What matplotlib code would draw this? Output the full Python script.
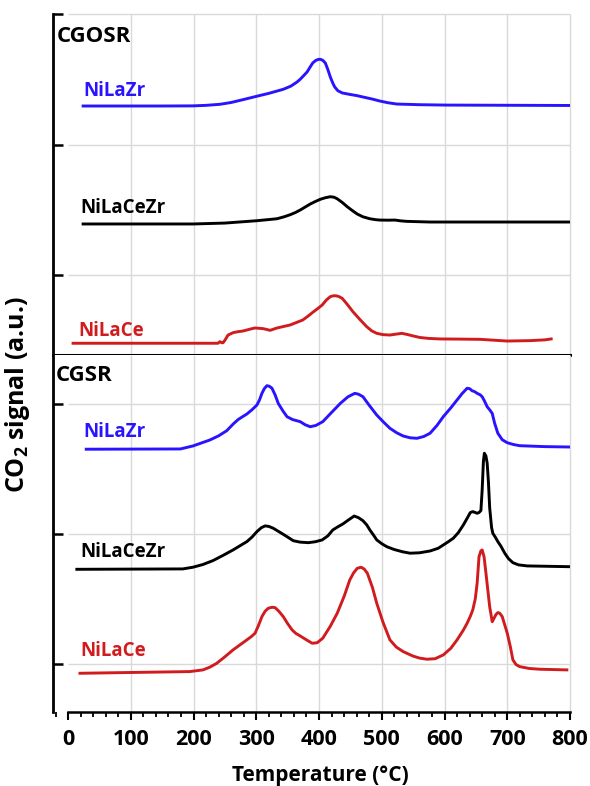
import matplotlib
matplotlib.use("Agg")
import matplotlib.pyplot as plt
from matplotlib.ticker import MultipleLocator, NullFormatter

plt.rcParams['font.family'] = ['Open Sans', 'DejaVu Sans']
plt.rcParams['mathtext.fontset'] = 'custom'
plt.rcParams['mathtext.rm'] = 'Open Sans:bold'
plt.rcParams['mathtext.bf'] = 'Open Sans:bold'

# ---------------- CGOSR (upper panel) ----------------
cgosr_zr_T = [24, 150, 199, 220, 242, 260, 280, 301, 320, 343, 355, 365, 370, 376, 381,
              386, 390, 395, 399, 402, 406, 410, 414, 418, 422, 425, 430, 437, 450, 460,
              470, 485, 497, 510, 524, 560, 604, 800]
cgosr_zr_y = [2.295, 2.295, 2.296, 2.300, 2.308, 2.322, 2.345, 2.370, 2.392, 2.423, 2.447,
              2.479, 2.500, 2.530, 2.556, 2.595, 2.625, 2.645, 2.652, 2.653, 2.645, 2.625,
              2.575, 2.517, 2.470, 2.441, 2.412, 2.395, 2.383, 2.375, 2.364, 2.348, 2.333,
              2.320, 2.310, 2.305, 2.302, 2.299]

cgosr_cezr_T = [24, 199, 250, 301, 333, 345, 354, 362, 370, 378, 386, 394, 402, 410, 418,
                424, 429, 437, 445, 453, 461, 470, 481, 490, 497, 510, 521, 530, 540, 577, 798]
cgosr_cezr_y = [1.391, 1.391, 1.398, 1.416, 1.431, 1.447, 1.462, 1.478, 1.498, 1.521,
                1.544, 1.563, 1.580, 1.592, 1.600, 1.596, 1.584, 1.556, 1.523, 1.494,
                1.467, 1.446, 1.431, 1.424, 1.421, 1.420, 1.421, 1.415, 1.411, 1.406, 1.406]

cgosr_ce_T = [8, 239, 242, 245, 247, 250, 255, 263, 270, 279, 290, 298, 311, 322, 333,
              354, 365, 374, 382, 390, 398, 405, 412, 418, 422, 427, 432, 437, 445, 454,
              465, 476, 484, 492, 502, 513, 520, 532, 540, 550, 561, 575, 593, 620, 657,
              680, 700, 736, 760, 770]
cgosr_ce_y = [0.477, 0.477, 0.489, 0.481, 0.481, 0.500, 0.540, 0.558, 0.565, 0.571, 0.585,
              0.594, 0.589, 0.576, 0.594, 0.617, 0.638, 0.655, 0.683, 0.714, 0.743, 0.770,
              0.810, 0.834, 0.840, 0.841, 0.834, 0.821, 0.775, 0.719, 0.660, 0.604, 0.572,
              0.553, 0.543, 0.540, 0.545, 0.553, 0.545, 0.533, 0.521, 0.514, 0.510, 0.509,
              0.507, 0.500, 0.494, 0.497, 0.503, 0.510]

# ---------------- CGSR (lower panel) ----------------
cgsr_zr_T = [29, 179, 199, 226, 240, 253, 263, 271, 278, 285, 293, 301, 305, 309, 313,
             317, 321, 325, 330, 335, 342, 349, 358, 370, 378, 386, 395, 406, 420, 434,
             446, 457, 463, 470, 480, 492, 503, 513, 524, 534, 545, 556, 567, 577, 588,
             598, 610, 620, 628, 636, 640, 644, 648, 652, 657, 660, 664, 668, 672, 676,
             680, 685, 692, 700, 710, 720, 760, 800]
cgsr_zr_y = [2.652, 2.654, 2.677, 2.723, 2.755, 2.795, 2.845, 2.880, 2.902, 2.923, 2.955,
             2.992, 3.030, 3.082, 3.120, 3.141, 3.136, 3.121, 3.070, 3.005, 2.950, 2.902,
             2.880, 2.864, 2.840, 2.825, 2.835, 2.864, 2.935, 3.005, 3.055, 3.082, 3.075,
             3.056, 2.990, 2.915, 2.860, 2.813, 2.778, 2.754, 2.740, 2.736, 2.750, 2.775,
             2.835, 2.902, 2.970, 3.031, 3.080, 3.121, 3.118, 3.102, 3.095, 3.082, 3.070,
             3.056, 3.020, 2.979, 2.955, 2.928, 2.850, 2.775, 2.725, 2.702, 2.688, 2.679,
             2.672, 2.669]

cgsr_cezr_T = [14, 183, 199, 215, 231, 247, 263, 275, 285, 293, 301, 308, 314, 320, 327,
               338, 349, 359, 370, 383, 394, 405, 414, 422, 430, 438, 447, 456, 463, 470,
               476, 481, 487, 492, 500, 508, 520, 533, 545, 560, 577, 590, 598, 606, 614,
               622, 630, 636, 641, 645, 649, 652, 655, 658, 660, 662, 663.5, 666, 668,
               670, 672, 675, 677, 681, 685, 690, 696, 702, 709, 718, 732, 800]
cgsr_cezr_y = [1.728, 1.731, 1.744, 1.765, 1.795, 1.835, 1.877, 1.912, 1.941, 1.975,
               2.018, 2.048, 2.062, 2.058, 2.044, 2.012, 1.979, 1.948, 1.937, 1.933,
               1.940, 1.954, 1.985, 2.031, 2.055, 2.077, 2.108, 2.138, 2.125, 2.102,
               2.070, 2.031, 1.990, 1.954, 1.925, 1.902, 1.880, 1.863, 1.852, 1.855,
               1.869, 1.890, 1.915, 1.940, 1.967, 2.010, 2.069, 2.120, 2.164, 2.172,
               2.165, 2.159, 2.165, 2.180, 2.338, 2.560, 2.621, 2.600, 2.544, 2.400,
               2.200, 2.050, 2.005, 1.975, 1.941, 1.905, 1.852, 1.810, 1.779, 1.762,
               1.754, 1.748]

cgsr_ce_T = [19, 194, 215, 226, 237, 250, 263, 275, 285, 292, 298, 303, 309, 314, 319,
             325, 330, 336, 343, 350, 357, 363, 370, 380, 389, 397, 406, 418, 429, 440,
             449, 455, 461, 467, 472, 477, 485, 492, 502, 513, 523, 534, 550, 560, 572,
             585, 598, 610, 620, 630, 636, 641, 645, 649, 652, 655, 658, 660, 663, 666,
             669, 672, 676, 679, 682, 685, 688, 692, 696, 700, 705, 709, 714, 720, 735,
             752, 795]
cgsr_ce_y = [0.928, 0.941, 0.954, 0.975, 1.005, 1.055, 1.108, 1.150, 1.185, 1.210, 1.236,
             1.290, 1.364, 1.405, 1.428, 1.436, 1.433, 1.405, 1.364, 1.310, 1.262, 1.235,
             1.215, 1.185, 1.159, 1.163, 1.198, 1.290, 1.390, 1.520, 1.646, 1.700, 1.736,
             1.744, 1.730, 1.698, 1.590, 1.467, 1.320, 1.185, 1.130, 1.095, 1.060, 1.045,
             1.036, 1.040, 1.069, 1.120, 1.185, 1.260, 1.313, 1.365, 1.415, 1.500, 1.621,
             1.825, 1.870, 1.877, 1.825, 1.700, 1.569, 1.440, 1.325, 1.352, 1.380, 1.395,
             1.390, 1.364, 1.300, 1.236, 1.130, 1.031, 0.995, 0.979, 0.965, 0.959, 0.954]

x_major = [0, 100, 200, 300, 400, 500, 600, 700, 800]
grid_x = [100, 200, 300, 400, 500, 600, 700, 800]
y_ticks = [1, 2, 3]

BLUE = '#2a14ff'
BLACK = '#000000'
RED = '#d01c1f'
GRID = '#d9d9d9'

fig = plt.figure(figsize=(5.9, 7.86), dpi=100)
W, H = 590.0, 786.0
ax_top = fig.add_axes([53 / W, 1 - 355 / H, 517 / W, 341 / H])
ax_bot = fig.add_axes([53 / W, 1 - 712 / H, 517 / W, 357 / H])

ax_top.set_ylim(0.387, 3.0)
ax_bot.set_ylim(0.63, 3.377)

for ax in (ax_top, ax_bot):
    ax.set_xlim(-24, 800)
    ax.set_yticks(y_ticks)
    ax.yaxis.set_major_formatter(NullFormatter())
    ax.tick_params(axis='y', direction='in', length=7.5, width=1.8, color='black', left=True)
    ax.spines['right'].set_visible(False)
    ax.spines['top'].set_visible(False)
    ax.spines['left'].set_linewidth(2.0)
    ax.vlines(grid_x, *ax.get_ylim(), colors=GRID, linewidth=1.0, zorder=0, clip_on=False)
    ax.hlines(y_ticks, 0, 800, colors=GRID, linewidth=1.0, zorder=0, clip_on=False)

# upper panel: divider line at its bottom, no x labels
ax_top.spines['bottom'].set_linewidth(2.2)
ax_top.tick_params(axis='x', which='both', bottom=False, labelbottom=False)

# lower panel: temperature axis
ax_bot.spines['bottom'].set_bounds(0, 800)
ax_bot.spines['bottom'].set_linewidth(1.8)
ax_bot.set_xticks(x_major, labels=[str(v) for v in x_major],
                  fontsize=15.5, fontweight='bold')
ax_bot.xaxis.set_minor_locator(MultipleLocator(20))
ax_bot.tick_params(axis='x', which='major', direction='out', length=6, width=1.5, pad=6)
ax_bot.tick_params(axis='x', which='minor', direction='out', length=3.5, width=1.3)

lw = 2.1
ax_top.plot(cgosr_zr_T, cgosr_zr_y, color=BLUE, lw=lw)
ax_top.plot(cgosr_cezr_T, cgosr_cezr_y, color=BLACK, lw=lw)
ax_top.plot(cgosr_ce_T, cgosr_ce_y, color=RED, lw=lw)
ax_bot.plot(cgsr_zr_T, cgsr_zr_y, color=BLUE, lw=lw)
ax_bot.plot(cgsr_cezr_T, cgsr_cezr_y, color=BLACK, lw=lw)
ax_bot.plot(cgsr_ce_T, cgsr_ce_y, color=RED, lw=lw)

lab = dict(fontsize=13.5, fontweight='bold', va='center', ha='left')
ax_top.text(-18, 2.824, 'CGOSR', color='black', fontsize=16, fontweight='bold',
            va='center', ha='left')
ax_top.text(24, 2.41, 'NiLaZr', color=BLUE, **lab)
ax_top.text(19, 1.513, 'NiLaCeZr', color=BLACK, **lab)
ax_top.text(16, 0.571, 'NiLaCe', color=RED, **lab)

ax_bot.text(-19, 3.219, 'CGSR', color='black', fontsize=16, fontweight='bold',
            va='center', ha='left')
ax_bot.text(24, 2.781, 'NiLaZr', color=BLUE, **lab)
ax_bot.text(19, 1.862, 'NiLaCeZr', color=BLACK, **lab)
ax_bot.text(19, 1.096, 'NiLaCe', color=RED, **lab)

fig.text(320 / W, 1 - 775 / H, 'Temperature (°C)', fontsize=15, fontweight='bold',
         ha='center', va='center')
fig.text(18 / W, 1 - 395 / H, r'CO$_\mathbf{2}$ signal (a.u.)', rotation=90,
         fontsize=18, fontweight='bold', ha='center', va='center')

fig.savefig('out.png', dpi=100)
